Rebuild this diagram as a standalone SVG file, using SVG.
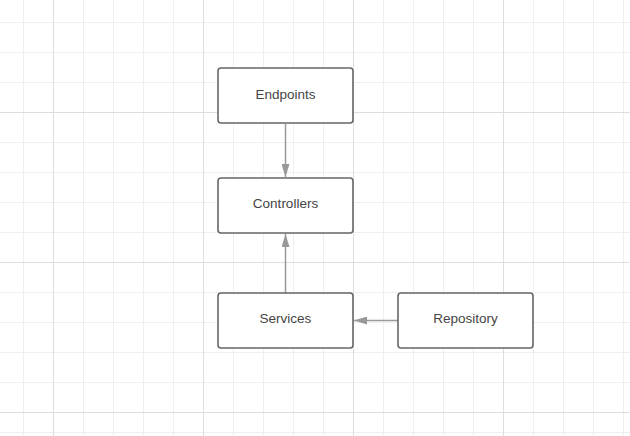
<svg xmlns="http://www.w3.org/2000/svg" width="630" height="436" viewBox="0 0 630 436">
<defs>
<style>
.minor{stroke:#efefef;stroke-width:1;fill:none}
.major{stroke:#dedede;stroke-width:1;fill:none}
.box{fill:#ffffff;stroke:#666666;stroke-width:1.6}
.lbl{font-family:"Liberation Sans",Arial,sans-serif;font-size:13.5px;fill:#444444;text-anchor:middle;dominant-baseline:central}
.edge{stroke:#999999;stroke-width:1.5;fill:none}
</style>
<marker id="ah" viewBox="0 0 13 8" refX="13" refY="4" markerWidth="13" markerHeight="8" markerUnits="userSpaceOnUse" orient="auto">
<path d="M0,0 L13,4 L0,8 Z" fill="#999999"/>
</marker>
</defs>
<rect width="630" height="436" fill="#ffffff"/>
<g id="grid">
<path class="minor" d="M23.5,0V436M83.5,0V436M113.5,0V436M143.5,0V436M173.5,0V436M233.5,0V436M263.5,0V436M293.5,0V436M323.5,0V436M383.5,0V436M413.5,0V436M443.5,0V436M473.5,0V436M533.5,0V436M563.5,0V436M593.5,0V436M623.5,0V436M0,22.5H630M0,52.5H630M0,82.5H630M0,142.5H630M0,172.5H630M0,202.5H630M0,232.5H630M0,292.5H630M0,322.5H630M0,352.5H630M0,382.5H630M0,432.5H630"/>
<path class="major" d="M53.5,0V436M203.5,0V436M353.5,0V436M503.5,0V436M0,112.5H630M0,262.5H630M0,412.5H630"/>
</g>
<g id="connectors">
<line class="edge" x1="285.5" y1="124" x2="285.5" y2="177" marker-end="url(#ah)"/>
<line class="edge" x1="285.5" y1="293" x2="285.5" y2="234" marker-end="url(#ah)"/>
<line class="edge" x1="398" y1="320.5" x2="354" y2="320.5" marker-end="url(#ah)"/>
</g>
<g id="endpoints">
<rect class="box" x="218" y="68" width="135" height="55" rx="3"/>
<text class="lbl" x="285.5" y="94">Endpoints</text>
</g>
<g id="controllers">
<rect class="box" x="218" y="178" width="135" height="55" rx="3"/>
<text class="lbl" x="285.5" y="203">Controllers</text>
</g>
<g id="services">
<rect class="box" x="218" y="293" width="135" height="55" rx="3"/>
<text class="lbl" x="285.5" y="318.5">Services</text>
</g>
<g id="repository">
<rect class="box" x="398" y="293" width="135" height="55" rx="3"/>
<text class="lbl" x="465.5" y="318.5">Repository</text>
</g>
</svg>
